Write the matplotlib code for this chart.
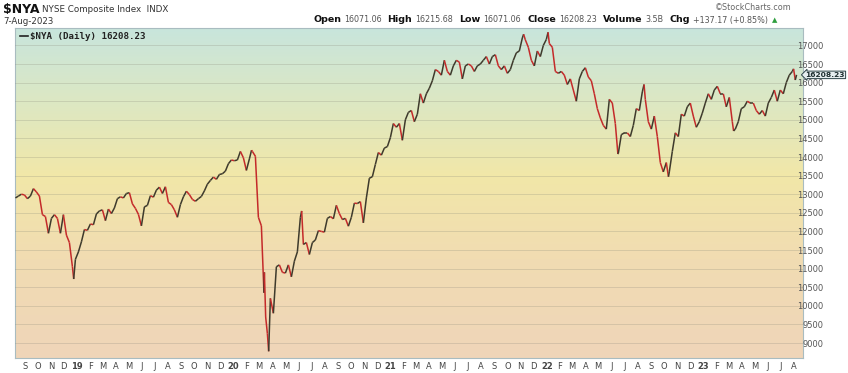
import numpy as np
import pandas as pd
import matplotlib
matplotlib.use('Agg')
import matplotlib.pyplot as plt
import matplotlib.dates as mdates
from matplotlib.collections import LineCollection
from matplotlib.colors import LinearSegmentedColormap

# weekly (Friday) closes of $NYA
close_2018 = [12900, 12950, 13000, 12980, 12880, 12950, 13150, 13060, 12950, 12450,
              12400, 11950, 12350, 12450, 12350, 11950, 12450, 11900, 11700, 11050, 11250]
close_2019 = [11450, 11720, 12050, 12030, 12200, 12180, 12470, 12550, 12580, 12290,
              12600, 12480, 12630, 12880, 12930, 12900, 13020, 13040, 12740, 12620,
              12460, 12150, 12660, 12700, 12960, 12920, 13110, 13190, 13020, 13200,
              12780, 12720, 12580, 12380, 12720, 12930, 13080, 12990, 12860, 12810,
              12880, 12940, 13090, 13270, 13370, 13460, 13400, 13530, 13550, 13620,
              13820, 13920]
close_2020 = [13900, 13920, 14150, 13980, 13640, 13950, 14150, 14020, 12380, 12150,
              10900, 9250, 10200, 9800, 11050, 11100, 10900, 10880, 11100, 10780,
              11200, 11450, 12380, 11650, 11700, 11380, 11700, 11770, 12020, 12000,
              11980, 12350, 12400, 12340, 12700, 12480, 12320, 12350, 12140, 12380,
              12760, 12750, 12800, 12230, 12900, 13430, 13470, 13800, 14120, 14050,
              14240, 14280]
close_2021 = [14520, 14900, 14800, 14900, 14450, 15000, 15200, 15250, 14950, 15150,
              15700, 15450, 15700, 15850, 16050, 16350, 16300, 16200, 16600, 16300,
              16200, 16450, 16600, 16550, 16100, 16450, 16500, 16450, 16300, 16450,
              16500, 16600, 16700, 16500, 16700, 16750, 16450, 16350, 16450, 16250,
              16350, 16600, 16800, 16850, 17200, 17150, 16950, 16600, 16450, 16850,
              16700, 17000, 17160]
close_2022 = [17050, 16950, 16300, 16250, 16300, 16200, 15950, 16100, 15800, 15500,
              16100, 16300, 16400, 16150, 16050, 15700, 15300, 15050, 14850, 14750,
              15550, 15450, 14900, 14100, 14600, 14650, 14650, 14550, 14850, 15300,
              15250, 15750, 15550, 14950, 14750, 15100, 14550, 13850, 13600, 13850,
              13600, 14150, 14650, 14550, 15150, 15100, 15350, 15450, 15100, 14800,
              14950, 15180]
close_2023 = [15450, 15700, 15550, 15800, 15900, 15700, 15700, 15350, 15600, 14950,
              14750, 14950, 15300, 15350, 15500, 15450, 15450, 15250, 15150, 15250,
              15100, 15450, 15600, 15800, 15500, 15800, 15700, 16000, 16200, 16300,
              16070]

# intra-week extremes and the last close
extra_dates = ['2018-12-24', '2020-02-12', '2020-03-12', '2020-03-16', '2020-03-23',
               '2020-06-08', '2021-11-08', '2022-01-04', '2022-06-16', '2022-08-16',
               '2022-10-12', '2023-03-13', '2023-07-31', '2023-08-07']
extra_closes = [10720, 14183, 10350, 9700, 8777,
                12550, 17300, 17353, 14080, 15950,
                13470, 14700, 16370, 16208.23]

y_ticks = list(range(9000, 17001, 500))
month_letters = ['J', 'F', 'M', 'A', 'M', 'J', 'J', 'A', 'S', 'O', 'N', 'D']

# ---- build the series
ranges = [('2018-08-10', '2018-12-31', close_2018), ('2019-01-01', '2019-12-31', close_2019),
          ('2020-01-01', '2020-12-31', close_2020), ('2021-01-01', '2021-12-31', close_2021),
          ('2022-01-01', '2022-12-31', close_2022), ('2023-01-01', '2023-08-04', close_2023)]
parts = []
for a, b, vals in ranges:
    d = pd.date_range(a, b, freq='W-FRI')
    parts.append(pd.Series(vals, index=d[:len(vals)]))
s = pd.concat(parts + [pd.Series(extra_closes, index=pd.to_datetime(extra_dates))])
s = s.sort_index()

W, H = 848, 373
fig = plt.figure(figsize=(W / 100, H / 100), dpi=100)
fig.patch.set_facecolor('white')
ax = fig.add_axes([15 / W, 1 - 358 / H, (803 - 15) / W, (358 - 28) / H])

x0 = mdates.date2num(pd.Timestamp('2018-08-09'))
x1 = mdates.date2num(pd.Timestamp('2023-08-22'))
ylo, yhi = 8597, 17468

# background gradient
grad = LinearSegmentedColormap.from_list('bg', [
    (0.0, '#efd5b9'), (0.3, '#f1dcb2'), (0.55, '#f2e7a8'),
    (0.75, '#dfe8c0'), (1.0, '#c8e5dc')])
ax.imshow(np.linspace(0, 1, 256).reshape(-1, 1), cmap=grad, origin='lower', aspect='auto',
          extent=[x0, x1, ylo, yhi], zorder=0)

# price line, red on down moves, dark on up moves
xn = mdates.date2num(s.index)
yv = s.values
segs = np.stack([np.column_stack([xn[:-1], yv[:-1]]), np.column_stack([xn[1:], yv[1:]])], axis=1)
cols = ['#c42a2a' if yv[i + 1] < yv[i] else '#3e3a2c' for i in range(len(yv) - 1)]
ax.add_collection(LineCollection(segs, colors=cols, linewidths=1.1, zorder=3))

ax.set_xlim(x0, x1)
ax.set_ylim(ylo, yhi)

# axes ticks
months = pd.date_range('2018-09-01', '2023-08-01', freq='MS')
ax.set_xticks(mdates.date2num(months))
labs = ax.set_xticklabels([f'{m.year % 100:02d}' if m.month == 1 else month_letters[m.month - 1]
                           for m in months])
for m, t in zip(months, labs):
    if m.month == 1:
        t.set_fontweight('bold')
ax.xaxis.set_minor_locator(mdates.MonthLocator([1, 4, 7, 10]))
ax.tick_params(axis='x', which='both', length=0, labelsize=6, colors='#444444', pad=3)

ax.yaxis.tick_right()
ax.set_yticks(y_ticks)
ax.set_yticklabels([str(v) for v in y_ticks])
ax.tick_params(axis='y', length=0, labelsize=6, colors='#555555', pad=14.5)
for t in ax.get_yticklabels():
    t.set_horizontalalignment('right')

ax.grid(which='minor', axis='x', color='#8a8a7a', alpha=0.35, lw=0.6)
ax.grid(which='major', axis='y', color='#8a8a7a', alpha=0.3, lw=0.6)
ax.set_axisbelow(False)
for sp in ax.spines.values():
    sp.set_color('#a9bcc0')
    sp.set_linewidth(0.8)

# legend line inside the plot
ax.plot([0.006, 0.016], [0.975, 0.975], transform=ax.transAxes, color='#222222', lw=1.2, zorder=5)
ax.text(0.019, 0.975, '$NYA (Daily) 16208.23', transform=ax.transAxes, family='DejaVu Sans Mono',
        fontsize=6.6, fontweight='bold', color='#222222', va='center', zorder=5)

# last value tag on the right axis
ax.text(1.003, 16208.23, '16208.23', transform=ax.get_yaxis_transform(), fontsize=5.4,
        fontweight='bold', color='#1e2e30', va='center', ha='left', zorder=6,
        bbox=dict(boxstyle='larrow,pad=0.1', fc='#e6eef0', ec='#2c4448', lw=0.7),
        clip_on=False)

# header
def fx(x):
    return x / W

def fy(y):
    return 1 - y / H

r = fig.canvas.get_renderer()
t = fig.text(fx(3), fy(9), '$NYA', fontsize=9, fontweight='bold', color='#111111', va='center')
x = 3 + t.get_window_extent(r).width + 3
fig.text(fx(x), fy(9), 'NYSE Composite Index  INDX', fontsize=6.3, color='#333333', va='center')
fig.text(fx(3), fy(21), '7-Aug-2023', fontsize=6.2, color='#333333', va='center')
fig.text(fx(792), fy(7), '\u00a9StockCharts.com', fontsize=5.8, color='#666666', va='center', ha='right')

x = 313
pieces = [('Open', True), ('16071.06', False), ('High', True), ('16215.68', False),
          ('Low', True), ('16071.06', False), ('Close', True), ('16208.23', False),
          ('Volume', True), ('3.5B', False), ('Chg', True), ('+137.17 (+0.85%)', False)]
for txt, bold in pieces:
    t = fig.text(fx(x), fy(20), txt, fontsize=6.8 if bold else 5.8,
                 fontweight='bold' if bold else 'normal',
                 color='#111111' if bold else '#555555', va='center')
    x += t.get_window_extent(r).width + (3 if bold else 6)
fig.text(fx(x - 2), fy(20), '\u25b2', fontsize=5, color='#2e9e3e', va='center')

fig.savefig('out.png', dpi=100)
